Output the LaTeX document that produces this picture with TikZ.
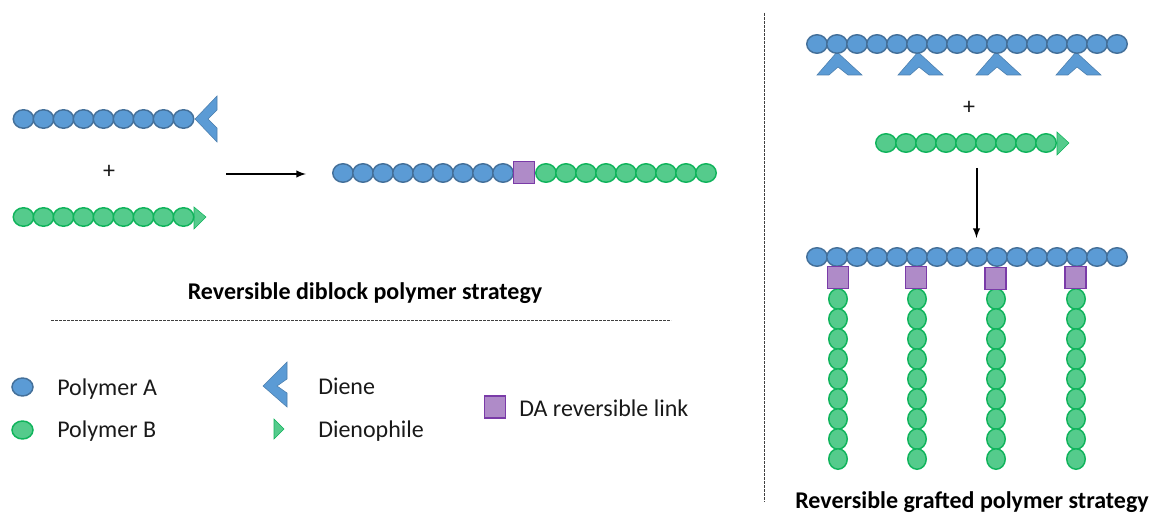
\documentclass[tikz,border=0pt]{standalone}
\usepackage{fontspec}
\usetikzlibrary{shapes.geometric}
\setmainfont{Carlito}
\definecolor{bluef}{HTML}{5B9BD5}
\definecolor{blued}{HTML}{44709A}
\definecolor{greenf}{HTML}{55CB8C}
\definecolor{greend}{HTML}{10B45C}
\definecolor{purf}{HTML}{AF8BC8}
\definecolor{purd}{HTML}{7A3BA8}
\tikzset{
  beadA/.style={ellipse,draw=blued,fill=bluef,line width=1.1pt,minimum width=20.5*0.75pt,minimum height=18.5*0.75pt,inner sep=0pt},
  beadB/.style={ellipse,draw=greend,fill=greenf,line width=1.1pt,minimum width=20.5*0.75pt,minimum height=18.5*0.75pt,inner sep=0pt},
  beadV/.style={ellipse,draw=greend,fill=greenf,line width=1.1pt,minimum width=18.5*0.75pt,minimum height=20.5*0.75pt,inner sep=0pt},
  link/.style={rectangle,draw=purd,fill=purf,line width=1.1pt,minimum width=21*0.75pt,minimum height=22*0.75pt,inner sep=0pt},
  dieneshape/.style={draw=blued!70!bluef,fill=bluef,line width=0.4pt},
  phileshape/.style={draw=greend,fill=greenf,line width=0.4pt},
  lab/.style={font=\fontsize{18}{20}\selectfont,text=black!90,inner sep=0pt},
  ttl/.style={font=\fontsize{18}{20}\selectfont\bfseries,text=black,inner sep=0pt},
  sep/.style={draw=black!75,line width=0.5pt,dash pattern=on 2pt off 1pt},
  rx/.style={-latex,line width=1.5pt,draw=black}
}
\begin{document}
\begin{tikzpicture}[x=0.75pt,y=-0.75pt]
\useasboundingbox (0,0) rectangle (1149,513);
% separators
\coordinate (vs) at (764,13); \coordinate (ve) at (764,502);
\coordinate (hs) at (51,320.5); \coordinate (he) at (671,320.5);
\draw[sep] (vs) -- (ve);
\draw[sep] (hs) -- (he);
% left reactants
\draw[dieneshape] (195,119) -- (217,96) -- (217,110) -- (208,119) -- (217,128) -- (217,142) -- cycle;
\foreach \i in {0,...,8} \node[beadA] (la\i) at ({23.5+20*\i},119) {};
\draw[phileshape] (194,207) -- (206,217) -- (194,229) -- cycle;
\foreach \i in {0,...,8} \node[beadB] (lb\i) at ({23.5+20*\i},217) {};
\node[lab] (plusl) at (109,172) {+};
% reaction arrow left
\coordinate (ras) at (226,174); \coordinate (rae) at (306,174);
\draw[rx] (ras) -- (rae);
% product
\foreach \i in {0,...,8} \node[beadA] (ma\i) at ({343+20*\i},173) {};
\foreach \i in {0,...,8} \node[beadB] (mb\i) at ({546+20*\i},173) {};
\node[link] (ml) at (524,172.5) {};
\node[ttl] (t1) at (365,293) {Reversible diblock polymer strategy};
% legend
\node[beadA,minimum width=21*0.75pt,minimum height=18*0.75pt] (lga) at (22.5,387) {};
\node[beadB,minimum width=21*0.75pt,minimum height=18*0.75pt] (lgb) at (22.5,430) {};
\node[lab,anchor=west] (tga) at (57,389) {Polymer A};
\node[lab,anchor=west] (tgb) at (57,431) {Polymer B};
\draw[dieneshape] (263,386) -- (287,362) -- (287,379) -- (277,386) -- (287,393) -- (287,407) -- cycle;
\draw[phileshape] (274,419) -- (284,429) -- (274,439) -- cycle;
\node[lab,anchor=west] (tgd) at (318,386) {Diene};
\node[lab,anchor=west] (tgp) at (318,431) {Dienophile};
\node[link] (lgl) at (495,407) {};
\node[lab,anchor=west] (tgl) at (519,408) {DA reversible link};
% right top
\foreach \d in {0,81,159,239}
  \draw[dieneshape,xshift=\d*0.75pt] (837,52) -- (862,75) -- (848,75) -- (838,67) -- (829,75) -- (817,75) -- cycle;
\foreach \i in {0,...,15} \node[beadA] (ra\i) at ({817+20*\i},44) {};
\node[lab] (plusr) at (969,108) {+};
\draw[phileshape] (1057,132) -- (1069,143) -- (1057,155) -- cycle;
\foreach \i in {0,...,8} \node[beadB] (rb\i) at ({886+20*\i},143) {};
% reaction arrow right
\coordinate (vas) at (976.5,168); \coordinate (vae) at (976.5,238);
\draw[rx] (vas) -- (vae);
% grafted product
\foreach \i in {0,...,15} \node[beadA] (ga\i) at ({817+20*\i},257) {};
\foreach \n/\x/\sq/\yy in {1/838/838/277.5,2/917/916/277.5,3/996/995.5/278.5,4/1076/1075.5/277.5}{
  \foreach \i in {0,...,8} \node[beadV] (g\n b\i) at (\x,{299+20*\i}) {};
  \node[link] (gl\n) at (\sq,\yy) {};
}
\node[ttl] (t2) at (972,502) {Reversible grafted polymer strategy};
\end{tikzpicture}
\end{document}
